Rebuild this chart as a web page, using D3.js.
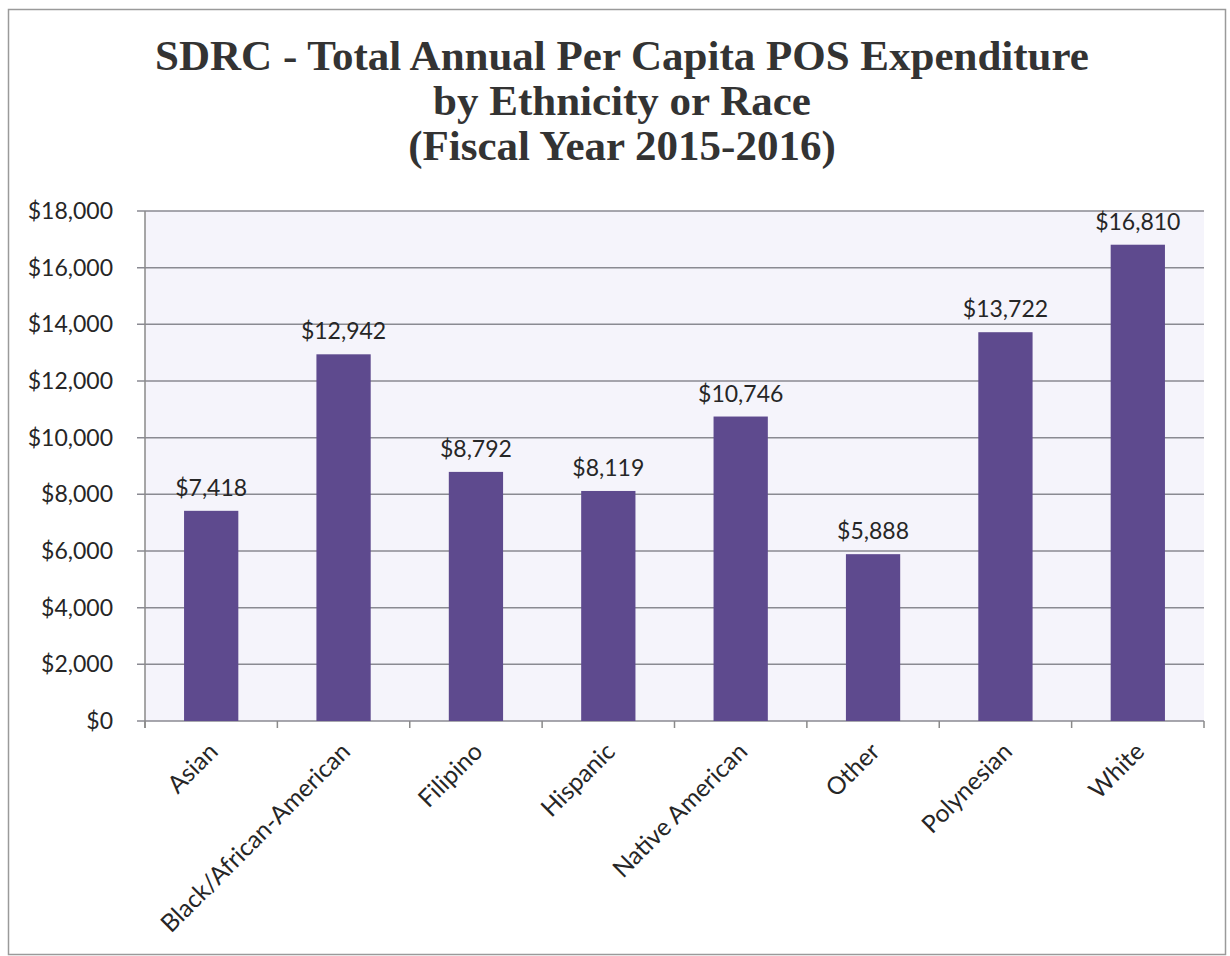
<!DOCTYPE html>
<html>
<head>
<meta charset="utf-8">
<script src="https://cdn.jsdelivr.net/npm/d3@7"></script>
<style>
  body { margin: 0; background: #ffffff; }
</style>
</head>
<body>
<script>
var width = 1230;
var height = 956;

// data
var categories = ["Asian", "Black/African-American", "Filipino", "Hispanic",
                  "Native American", "Other", "Polynesian", "White"];
var values = [7418, 12942, 8792, 8119, 10746, 5888, 13722, 16810];
var yTicks = [0, 2000, 4000, 6000, 8000, 10000, 12000, 14000, 16000, 18000];
var titleLines = ["SDRC - Total Annual Per Capita POS Expenditure",
                  "by Ethnicity or Race",
                  "(Fiscal Year 2015-2016)"];

var plotLeft = 145, plotRight = 1204, plotTop = 211, plotBottom = 721;
var labelFont = "Lato, 'Open Sans', sans-serif";

var svg = d3.select("body").append("svg")
    .attr("width", width)
    .attr("height", height);

// outer frame
svg.append("rect")
    .attr("x", 8.5).attr("y", 9.5)
    .attr("width", 1217).attr("height", 945)
    .attr("fill", "#ffffff")
    .attr("stroke", "#9a9a9a")
    .attr("stroke-width", 1.5);

// title
svg.append("text")
    .attr("x", 622)
    .attr("y", 70)
    .attr("text-anchor", "middle")
    .style("font-family", "'Liberation Serif', 'Times New Roman', serif")
    .style("font-weight", "bold")
    .style("font-size", "43px")
    .style("fill", "#333333")
    .selectAll("tspan").data(titleLines)
    .enter().append("tspan")
    .attr("x", 622)
    .attr("dy", function(d, i) { return i == 0 ? 0 : 45; })
    .text(function(d) { return d; });

var x = d3.scaleBand().domain(categories).range([plotLeft, plotRight]).paddingInner(0.59).paddingOuter(0.295);
var xTick = d3.scaleBand().domain(categories).range([plotLeft, plotRight]);
var y = d3.scaleLinear().domain([0, 18000]).range([plotBottom, plotTop]);

// plot area fill
svg.append("rect")
    .attr("x", plotLeft).attr("y", plotTop)
    .attr("width", plotRight - plotLeft).attr("height", plotBottom - plotTop)
    .attr("fill", "#f5f4fb");

// gridlines
svg.append("g").selectAll("line").data(yTicks)
    .enter().append("line")
    .attr("x1", plotLeft - 8)
    .attr("x2", plotRight)
    .attr("y1", function(d) { return y(d); })
    .attr("y2", function(d) { return y(d); })
    .style("stroke", "#8a8a92")
    .style("stroke-width", 1.5);

// y axis line
svg.append("line")
    .attr("x1", plotLeft).attr("x2", plotLeft)
    .attr("y1", plotTop).attr("y2", plotBottom + 7)
    .style("stroke", "#8a8a8a")
    .style("stroke-width", 1.5);

// y tick labels
svg.append("g").selectAll("text").data(yTicks)
    .enter().append("text")
    .attr("x", 113)
    .attr("y", function(d) { return y(d); })
    .attr("dy", "0.35em")
    .attr("text-anchor", "end")
    .style("font-family", labelFont)
    .style("font-size", "23px")
    .style("fill", "#262626")
    .text(function(d) { return "$" + d3.format(",")(d); });

// x ticks
var tickPos = categories.map(function(c) { return xTick(c); }).concat([plotRight]);
svg.append("g").selectAll("line").data(tickPos)
    .enter().append("line")
    .attr("x1", function(d) { return d; })
    .attr("x2", function(d) { return d; })
    .attr("y1", plotBottom)
    .attr("y2", plotBottom + 7)
    .style("stroke", "#8a8a8a")
    .style("stroke-width", 1.5);

// bars
svg.append("g").selectAll("rect").data(values)
    .enter().append("rect")
    .attr("x", function(d, i) { return x(categories[i]); })
    .attr("width", x.bandwidth())
    .attr("y", function(d) { return y(d); })
    .attr("height", function(d) { return plotBottom - y(d); })
    .attr("fill", "#5e4a8e");

// value labels
svg.append("g").selectAll("text").data(values)
    .enter().append("text")
    .attr("x", function(d, i) { return x(categories[i]) + x.bandwidth() / 2; })
    .attr("y", function(d) { return y(d) - 15; })
    .attr("text-anchor", "middle")
    .style("font-family", labelFont)
    .style("font-size", "23px")
    .style("fill", "#262626")
    .text(function(d) { return "$" + d3.format(",")(d); });

// category labels
svg.append("g").selectAll("text").data(categories)
    .enter().append("text")
    .attr("transform", function(d) {
        var cx = xTick(d) + xTick.bandwidth() / 2;
        return "translate(" + (cx - 4) + "," + (plotBottom + 20) + ") rotate(-45)";
    })
    .attr("text-anchor", "end")
    .attr("dy", "0.7em")
    .style("font-family", labelFont)
    .style("font-size", "24.5px")
    .style("fill", "#262626")
    .text(function(d) { return d; });
</script>
</body>
</html>
